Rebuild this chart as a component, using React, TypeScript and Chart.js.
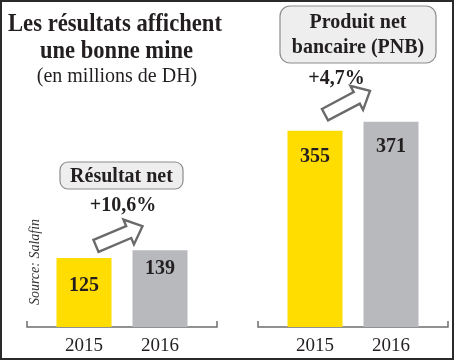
import React, { useEffect, useRef } from "react";
import { Chart, registerables } from "chart.js";

Chart.register(...registerables);

// ---- data ----
const years = ["2015", "2016"];
const resultatNet = [125, 139];
const produitNetBancaire = [355, 371];
const resultatNetGrowth = "+10,6%";
const pnbGrowth = "+4,7%";
const titleLines = ["Les résultats affichent", "une bonne mine"];
const subtitle = "(en millions de DH)";
const sourceText = "Source: Salafin";
const resultatNetTitle = ["Résultat net"];
const pnbTitle = ["Produit net", "bancaire (PNB)"];
const barColors = ["#FFDD00", "#B8B9BC"];
const yMax = 400;

// ---- styles ----
const SERIF = '"Liberation Serif", "Times New Roman", Times, serif';
const INK = "#231F20";
const CANVAS_W = 227;
const CANVAS_H = 400;
const BASELINE_Y = 327;
const PX_PER_UNIT = 0.553;

type PanelCfg = {
  values: number[];
  boxLines: string[];
  growth: string;
  area: [number, number];
  box: { x: number; y: number; w: number; h: number; r: number };
  boxBaselines: number[];
  growthX: number;
  growthY: number;
  valueOffsets: number[];
  arrowTail: [number, number];
  arrowTip: [number, number];
  header: boolean;
};

const leftPanel: PanelCfg = {
  values: resultatNet,
  boxLines: resultatNetTitle,
  growth: resultatNetGrowth,
  area: [46, 198],
  box: { x: 60, y: 162, w: 123, h: 27, r: 8 },
  boxBaselines: [182],
  growthX: 123,
  growthY: 211,
  valueOffsets: [33, 24],
  arrowTail: [12, -12],
  arrowTip: [-17.5, -24],
  header: true,
};

const rightPanel: PanelCfg = {
  values: produitNetBancaire,
  boxLines: pnbTitle,
  growth: pnbGrowth,
  area: [50, 202],
  box: { x: 53, y: 6, w: 156, h: 57, r: 10 },
  boxBaselines: [28, 53],
  growthX: 109.5,
  growthY: 84,
  valueOffsets: [31, 30],
  arrowTail: [10, -16],
  arrowTip: [-21, -31],
  header: false,
};

function roundRectPath(ctx: CanvasRenderingContext2D, x: number, y: number, w: number, h: number, r: number) {
  ctx.beginPath();
  ctx.moveTo(x + r, y);
  ctx.lineTo(x + w - r, y);
  ctx.arcTo(x + w, y, x + w, y + r, r);
  ctx.lineTo(x + w, y + h - r);
  ctx.arcTo(x + w, y + h, x + w - r, y + h, r);
  ctx.lineTo(x + r, y + h);
  ctx.arcTo(x, y + h, x, y + h - r, r);
  ctx.lineTo(x, y + r);
  ctx.arcTo(x, y, x + r, y, r);
  ctx.closePath();
}

function drawArrow(ctx: CanvasRenderingContext2D, x1: number, y1: number, x2: number, y2: number) {
  const ang = Math.atan2(y2 - y1, x2 - x1);
  const L = Math.hypot(x2 - x1, y2 - y1);
  const sw = 6.5;
  const hw = 13.5;
  const hl = 15;
  ctx.save();
  ctx.translate(x1, y1);
  ctx.rotate(ang);
  ctx.beginPath();
  ctx.moveTo(0, -sw);
  ctx.lineTo(L - hl, -sw);
  ctx.lineTo(L - hl, -hw);
  ctx.lineTo(L, 0);
  ctx.lineTo(L - hl, hw);
  ctx.lineTo(L - hl, sw);
  ctx.lineTo(0, sw);
  ctx.closePath();
  ctx.fillStyle = "#FFFFFF";
  ctx.fill();
  ctx.lineJoin = "miter";
  ctx.strokeStyle = "#6A6A6A";
  ctx.lineWidth = 2.4;
  ctx.stroke();
  ctx.restore();
}

function makePlugin(p: PanelCfg) {
  return {
    id: "panelDecor",
    beforeDatasetsDraw(chart: any) {
      const ctx: CanvasRenderingContext2D = chart.ctx;
      const area = chart.chartArea;
      const y0 = chart.scales.y.getPixelForValue(0);
      const ext = 19;
      ctx.save();
      ctx.strokeStyle = "#6E6E6E";
      ctx.lineWidth = 1.5;
      ctx.beginPath();
      ctx.moveTo(area.left - ext, y0 - 6);
      ctx.lineTo(area.left - ext, y0);
      ctx.lineTo(area.right + ext, y0);
      ctx.lineTo(area.right + ext, y0 - 6);
      ctx.stroke();
      ctx.restore();
    },
    afterDatasetsDraw(chart: any) {
      const ctx: CanvasRenderingContext2D = chart.ctx;
      const bars = chart.getDatasetMeta(0).data as any[];
      const data = chart.data.datasets[0].data as number[];
      ctx.save();
      // values inside bars
      ctx.fillStyle = INK;
      ctx.textAlign = "center";
      ctx.textBaseline = "alphabetic";
      ctx.font = `bold 20px ${SERIF}`;
      bars.forEach((b, i) => {
        ctx.fillText(String(data[i]), b.x, b.y + p.valueOffsets[i]);
      });
      // arrow
      const b0 = bars[0];
      const b1 = bars[1];
      drawArrow(ctx, b0.x + p.arrowTail[0], b0.y + p.arrowTail[1], b1.x + p.arrowTip[0], b1.y + p.arrowTip[1]);
      // growth label
      ctx.fillStyle = INK;
      ctx.font = `bold 20px ${SERIF}`;
      ctx.fillText(p.growth, p.growthX, p.growthY);
      // box
      roundRectPath(ctx, p.box.x, p.box.y, p.box.w, p.box.h, p.box.r);
      ctx.fillStyle = "#EEEEEE";
      ctx.fill();
      ctx.strokeStyle = "#8C8C8C";
      ctx.lineWidth = 1.2;
      ctx.stroke();
      ctx.fillStyle = INK;
      ctx.font = `bold 20px ${SERIF}`;
      p.boxLines.forEach((t, i) => {
        ctx.fillText(t, p.box.x + p.box.w / 2, p.boxBaselines[i]);
      });
      if (p.header) {
        ctx.font = `bold 25px ${SERIF}`;
        ctx.fillText(titleLines[0], 115, 31, 214);
        ctx.fillText(titleLines[1], 116.5, 58, 153);
        ctx.font = `20px ${SERIF}`;
        ctx.fillText(subtitle, 117, 82);
        ctx.save();
        ctx.translate(35, 262);
        ctx.rotate(-Math.PI / 2);
        ctx.font = `italic 14px ${SERIF}`;
        ctx.textBaseline = "middle";
        ctx.fillStyle = "#333333";
        ctx.fillText(sourceText, 0, 0);
        ctx.restore();
      }
      ctx.restore();
    },
  };
}

function Panel({ cfg, left }: { cfg: PanelCfg; left: number }) {
  const ref = useRef<HTMLCanvasElement>(null);
  useEffect(() => {
    const tickPad = 8;
    const tickSize = 19;
    const scaleH = tickSize * 1.2 + tickPad * 2;
    const chart = new Chart(ref.current!, {
      type: "bar",
      data: {
        labels: years,
        datasets: [
          {
            data: cfg.values,
            backgroundColor: barColors,
            borderWidth: 0,
            categoryPercentage: 1,
            barPercentage: 55 / 76,
          },
        ],
      },
      options: {
        responsive: false,
        animation: false,
        devicePixelRatio: 1,
        layout: {
          padding: {
            left: cfg.area[0],
            right: CANVAS_W - cfg.area[1],
            top: BASELINE_Y - yMax * PX_PER_UNIT,
            bottom: CANVAS_H - BASELINE_Y - scaleH,
          },
        },
        plugins: {
          legend: { display: false },
          tooltip: { enabled: false },
        },
        scales: {
          x: {
            grid: { display: false, drawTicks: false },
            border: { display: false },
            ticks: { color: INK, font: { family: SERIF, size: tickSize }, padding: tickPad },
          },
          y: { display: false, min: 0, max: yMax },
        },
      },
      plugins: [makePlugin(cfg)],
    });
    return () => chart.destroy();
  }, []);
  return (
    <canvas
      ref={ref}
      width={CANVAS_W}
      height={CANVAS_H}
      style={{ position: "absolute", left, top: 0, width: CANVAS_W, height: CANVAS_H }}
    />
  );
}

export default function App() {
  return (
    <div
      style={{
        position: "absolute",
        left: 0,
        top: 0,
        width: 454,
        height: 360,
        overflow: "hidden",
        background: "#FFFFFF",
      }}
    >
      <Panel cfg={leftPanel} left={0} />
      <Panel cfg={rightPanel} left={227} />
      <div
        style={{
          position: "absolute",
          left: 0,
          top: 0,
          width: 454,
          height: 360,
          boxSizing: "border-box",
          border: "2px solid #2A2A2A",
          pointerEvents: "none",
        }}
      />
    </div>
  );
}
